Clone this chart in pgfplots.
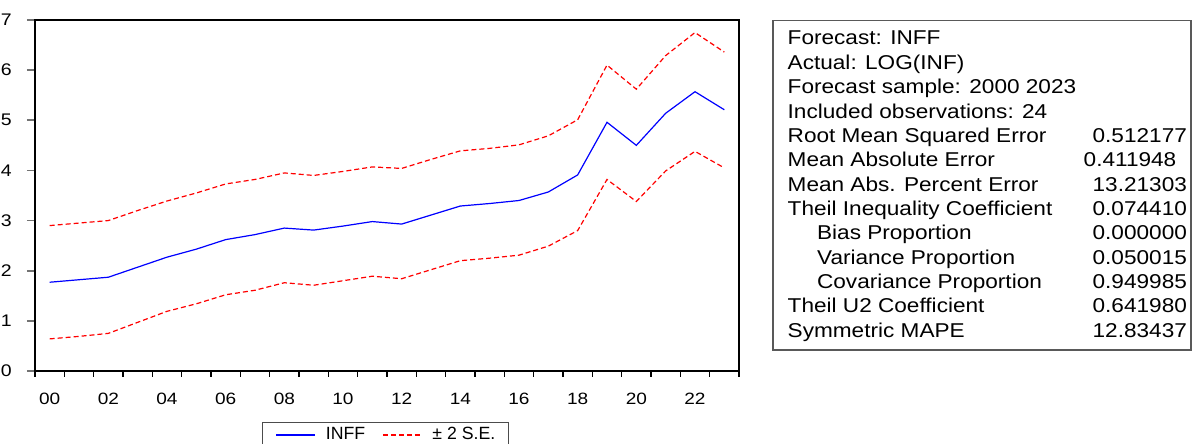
\documentclass[border=0pt]{standalone}
\usepackage{graphicx}
\usepackage{fontspec}
\setmainfont{Liberation Sans}
\usepackage{pgfplots}
\pgfplotsset{compat=1.18}
\newcommand{\sx}[1]{\scalebox{1.16}[1]{#1}}
\newcommand{\st}[1]{\scalebox{1.13}[1]{#1}}
\newcommand{\statrow}[4]{%
  \node[stat, anchor=base west] at (#1, {-22.5pt-12.175pt*#2}) {\st{#3}};%
  \node[stat, anchor=base east] at (593.65pt, {-22.5pt-12.175pt*#2}) {\st{#4}};}
\begin{document}
\begin{tikzpicture}[stat/.style={font=\fontsize{10}{12}\selectfont, inner sep=0pt}]
\path[use as bounding box] (0pt,0pt) rectangle (597.5pt,-222pt);
\begin{axis}[
  at={(17.5pt,-10pt)}, anchor=north west,
  scale only axis, width=352pt, height=175.5pt,
  xmin=-0.5, xmax=23.5, ymin=0, ymax=7,
  axis line style={black, line width=0.9pt},
  tick align=outside,
  xtick pos=bottom, ytick pos=left,
  xtick={0,2,...,22},
  xticklabels={\sx{00},\sx{02},\sx{04},\sx{06},\sx{08},\sx{10},\sx{12},\sx{14},\sx{16},\sx{18},\sx{20},\sx{22}},
  minor xtick={-0.5,0.5,...,23.5},
  ytick={0,1,...,7},
  yticklabels={\sx{0},\sx{1},\sx{2},\sx{3},\sx{4},\sx{5},\sx{6},\sx{7}},
  major tick length=4pt, minor tick length=3pt,
  major x tick style={draw=none},
  minor x tick style={black, line width=0.8pt},
  major y tick style={black!55, line width=0.8pt},
  xticklabel style={anchor=north, inner sep=0pt, yshift=-7pt, font=\fontsize{8.2}{9}\selectfont},
  yticklabel style={anchor=east, inner sep=0pt, xshift=-7.5pt, font=\fontsize{8.4}{9}\selectfont},
  legend columns=2,
  legend image code/.code={\draw[#1] (0pt,0pt) -- (19.5pt,0pt); \path (24.5pt,0pt);},
  legend style={at={(0.3224,-0.1453)}, anchor=north west, draw=black!70, line width=0.7pt,
    inner xsep=6.5pt, inner ysep=1.8pt,
    font=\fontsize{8.85}{10}\selectfont,
    nodes={inner xsep=0pt, inner ysep=0.5pt},
    /tikz/every even column/.append style={column sep=8.5pt}},
]
\addplot[blue, line width=0.6pt] coordinates {
(0,1.77) (1,1.82) (2,1.87) (3,2.07) (4,2.27) (5,2.43) (6,2.62) (7,2.72)
(8,2.85) (9,2.81) (10,2.89) (11,2.98) (12,2.93) (13,3.11) (14,3.29) (15,3.34)
(16,3.40) (17,3.57) (18,3.91) (19,4.96) (20,4.50) (21,5.14) (22,5.57) (23,5.21)};
\addlegendentry{INFF}
\addplot[red, line width=0.6pt, dash pattern=on 2.5pt off 1.5pt] coordinates {
(0,2.90) (1,2.95) (2,3.00) (3,3.20) (4,3.39) (5,3.55) (6,3.73) (7,3.82)
(8,3.95) (9,3.90) (10,3.98) (11,4.07) (12,4.04) (13,4.22) (14,4.39) (15,4.44)
(16,4.51) (17,4.69) (18,5.01) (19,6.10) (20,5.62) (21,6.29) (22,6.75) (23,6.36)};
\addlegendentry{± 2 S.E.}
\addplot[red, line width=0.6pt, dash pattern=on 2.5pt off 1.5pt, forget plot] coordinates {
(0,0.64) (1,0.69) (2,0.75) (3,0.97) (4,1.19) (5,1.34) (6,1.52) (7,1.61)
(8,1.76) (9,1.71) (10,1.80) (11,1.89) (12,1.84) (13,2.02) (14,2.20) (15,2.25)
(16,2.31) (17,2.49) (18,2.80) (19,3.82) (20,3.38) (21,3.99) (22,4.38) (23,4.05)};
\end{axis}
\draw[black!65, line width=0.8pt] (386.5pt,-10.25pt) rectangle (595.5pt,-175pt);
\statrow{393.65pt}{0}{Forecast: INFF}{}
\statrow{393.65pt}{1}{Actual: LOG(INF)}{}
\statrow{393.65pt}{2}{Forecast sample: 2000 2023}{}
\statrow{393.65pt}{3}{Included observations: 24}{}
\statrow{393.65pt}{4}{Root Mean Squared Error}{0.512177}
\node[stat, anchor=base west] at (393.65pt, {-22.5pt-12.175pt*5}) {\st{Mean Absolute Error}};
\node[stat, anchor=base east] at (588.35pt, {-22.5pt-12.175pt*5}) {\st{0.411948}};
\statrow{393.65pt}{6}{Mean Abs. Percent Error}{13.21303}
\statrow{393.65pt}{7}{Theil Inequality Coefficient}{0.074410}
\statrow{408.35pt}{8}{Bias Proportion}{0.000000}
\statrow{408.35pt}{9}{Variance Proportion}{0.050015}
\statrow{408.35pt}{10}{Covariance Proportion}{0.949985}
\statrow{393.65pt}{11}{Theil U2 Coefficient}{0.641980}
\statrow{393.65pt}{12}{Symmetric MAPE}{12.83437}
\end{tikzpicture}
\end{document}
